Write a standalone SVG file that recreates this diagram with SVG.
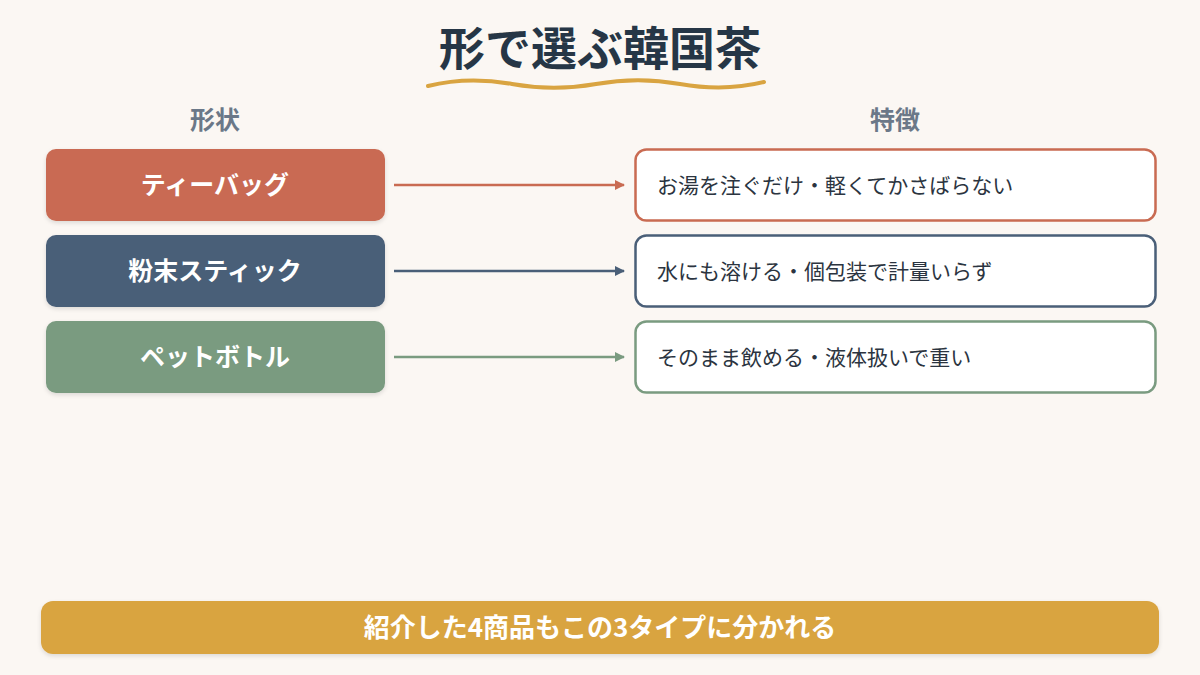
<svg xmlns="http://www.w3.org/2000/svg" width="1200" height="675" viewBox="0 0 1200 675">
<defs>
<style>
.jp{font-family:"Noto Sans CJK JP","Noto Sans",sans-serif}
.title{font-size:46px;font-weight:700;fill:#263646}
.head{font-size:25px;font-weight:700;fill:#6B7888}
.lbl{font-size:25px;font-weight:700;fill:#ffffff}
.desc{font-size:21px;fill:#2B3440}
.banner{font-size:26px;font-weight:700;fill:#ffffff}
</style>
<filter id="sh" x="-10%" y="-20%" width="120%" height="150%">
<feDropShadow dx="0" dy="2" stdDeviation="2" flood-color="#000" flood-opacity="0.12"/>
</filter>
<marker id="a1" markerWidth="10" markerHeight="10" refX="9" refY="5" orient="auto" markerUnits="userSpaceOnUse"><path d="M0,0 L10,5 L0,10 z" fill="#C96B52"/></marker>
<marker id="a2" markerWidth="10" markerHeight="10" refX="9" refY="5" orient="auto" markerUnits="userSpaceOnUse"><path d="M0,0 L10,5 L0,10 z" fill="#4A5F78"/></marker>
<marker id="a3" markerWidth="10" markerHeight="10" refX="9" refY="5" orient="auto" markerUnits="userSpaceOnUse"><path d="M0,0 L10,5 L0,10 z" fill="#7A9B80"/></marker>
</defs>
<rect width="1200" height="675" fill="#FBF7F3"/>
<g id="title">
<text class="jp title" x="600" y="65" text-anchor="middle">形で選ぶ韓国茶</text>
<path d="M428,86 C456,79 484,79 512,84 S568,89 596,84 S652,79 680,84 S736,89 764,82" fill="none" stroke="#D9A441" stroke-width="4" stroke-linecap="round"/>
</g>
<g id="headers">
<text class="jp head" x="215" y="129" text-anchor="middle">形状</text>
<text class="jp head" x="895" y="129" text-anchor="middle">特徴</text>
</g>
<g id="n-teabag">
<rect x="46" y="149" width="339" height="72" rx="10" fill="#C96B52" filter="url(#sh)"/>
<text class="jp lbl" x="215" y="194" text-anchor="middle">ティーバッグ</text>
</g>
<g id="n-powder">
<rect x="46" y="235" width="339" height="72" rx="10" fill="#4A5F78" filter="url(#sh)"/>
<text class="jp lbl" x="215" y="280" text-anchor="middle">粉末スティック</text>
</g>
<g id="n-bottle">
<rect x="46" y="321" width="339" height="72" rx="10" fill="#7A9B80" filter="url(#sh)"/>
<text class="jp lbl" x="215" y="366" text-anchor="middle">ペットボトル</text>
</g>
<g id="d-teabag">
<rect x="635.5" y="149.5" width="520" height="71" rx="11" fill="#ffffff" stroke="#C96B52" stroke-width="2.5"/>
<text class="jp desc" x="657" y="193">お湯を注ぐだけ・軽くてかさばらない</text>
</g>
<g id="d-powder">
<rect x="635.5" y="235.5" width="520" height="71" rx="11" fill="#ffffff" stroke="#4A5F78" stroke-width="2.5"/>
<text class="jp desc" x="657" y="279">水にも溶ける・個包装で計量いらず</text>
</g>
<g id="d-bottle">
<rect x="635.5" y="321.5" width="520" height="71" rx="11" fill="#ffffff" stroke="#7A9B80" stroke-width="2.5"/>
<text class="jp desc" x="657" y="365">そのまま飲める・液体扱いで重い</text>
</g>
<g id="connectors">
<line x1="394" y1="185" x2="624" y2="185" stroke="#C96B52" stroke-width="2.5" marker-end="url(#a1)"/>
<line x1="394" y1="271" x2="624" y2="271" stroke="#4A5F78" stroke-width="2.5" marker-end="url(#a2)"/>
<line x1="394" y1="357" x2="624" y2="357" stroke="#7A9B80" stroke-width="2.5" marker-end="url(#a3)"/>
</g>
<g id="banner">
<rect x="41" y="601" width="1118" height="53" rx="12" fill="#D9A441" filter="url(#sh)"/>
<text class="jp banner" x="600" y="637" text-anchor="middle">紹介した4商品もこの3タイプに分かれる</text>
</g>
</svg>
